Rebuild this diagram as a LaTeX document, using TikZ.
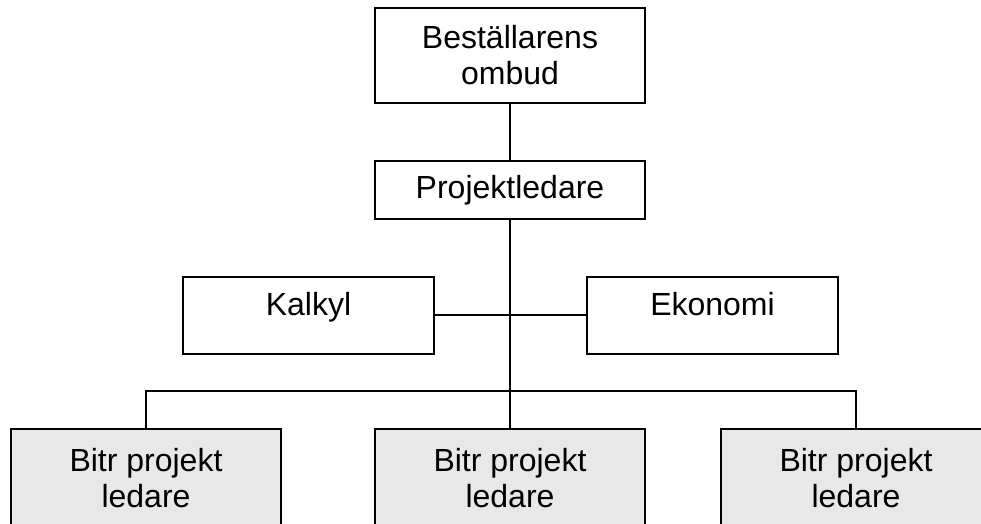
\documentclass[tikz,border=0pt]{standalone}
\usepackage{fontspec}
\setmainfont{Liberation Sans}
\definecolor{boxgray}{RGB}{232,232,232}
\begin{document}
\begin{tikzpicture}[x=1pt,y=-1pt,
  orgfont/.style={font=\fontsize{32}{36}\selectfont},
  orgbox/.style={draw=black, line width=2pt, fill=white, inner sep=0pt,
    align=center, orgfont},
  staffbox/.style={orgbox, minimum width=251pt, minimum height=77pt},
  stafftext/.style={orgfont, anchor=base, inner sep=0pt},
  subbox/.style={orgbox, fill=boxgray, minimum width=270pt, minimum height=98pt},
  link/.style={draw=black, line width=2pt}]
  \useasboundingbox (0,0) rectangle (981,523);
  \clip (0,0) rectangle (981,523);

  % management chain
  \node[orgbox, minimum width=270pt, minimum height=95pt] (ombud) at (510,55.5)
    {Beställarens\\ombud};
  \node[orgbox, minimum width=270pt, minimum height=58pt] (pl) at (510,190)
    {Projektledare};

  % staff functions, text set in the upper half of the box
  \node[staffbox] (kalkyl) at (308.5,315) {};
  \node[stafftext] (kalkyltext) at (308.5,315) {Kalkyl};
  \node[staffbox] (ekonomi) at (712.5,315) {};
  \node[stafftext] (ekonomitext) at (712.5,315) {Ekonomi};

  % assistant project managers
  \node[subbox] (bpl1) at (146,478) {Bitr projekt\\ledare};
  \node[subbox] (bpl2) at (510,478) {Bitr projekt\\ledare};
  \node[subbox] (bpl3) at (856,478) {Bitr projekt\\ledare};

  \coordinate (bus) at (510,391);

  % connectors
  \draw[link] (ombud.south) -- (pl.north);
  \draw[link] (kalkyl.east) -- (ekonomi.west);
  \draw[link] (pl.south) -- (bpl2.north);
  \draw[link] (bpl1.north) |- (bus) -| (bpl3.north);
\end{tikzpicture}
\end{document}
